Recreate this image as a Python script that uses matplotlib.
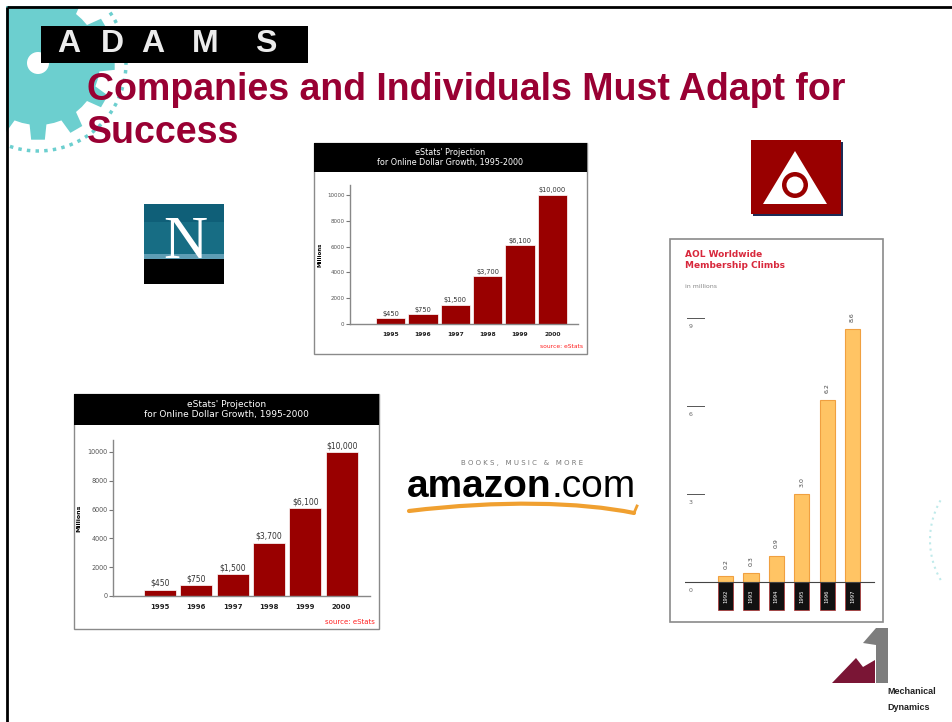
import numpy as np
import matplotlib.pyplot as plt
from matplotlib.patches import Rectangle, Polygon, Circle, PathPatch
from matplotlib.path import Path
from matplotlib import font_manager

# slide size in pixels
W, H = 953, 722

# eStats chart data
years = ["1995", "1996", "1997", "1998", "1999", "2000"]
online_sales = [450, 750, 1500, 3700, 6100, 10000]
sales_labels = ["$450", "$750", "$1,500", "$3,700", "$6,100", "$10,000"]
sales_ticks = [0, 2000, 4000, 6000, 8000, 10000]

# AOL chart data
aol_years = ["1992", "1993", "1994", "1995", "1996", "1997"]
aol_members = [0.2, 0.3, 0.9, 3.0, 6.2, 8.6]
aol_labels = ["0.2", "0.3", "0.9", "3.0", "6.2", "8.6"]
aol_ticks = [3, 6, 9]

TITLE_RED = "#990033"


def px(x0, y0, x1, y1):
    # pixel box (top-left origin) -> figure fraction rect
    return [x0 / W, 1 - y1 / H, (x1 - x0) / W, (y1 - y0) / H]


def has_font(name):
    try:
        font_manager.findfont(name, fallback_to_default=False)
        return True
    except Exception:
        return False


fig = plt.figure(figsize=(9.53, 7.22), dpi=100)
bg = fig.add_axes([0, 0, 1, 1])
bg.set_xlim(0, W)
bg.set_ylim(H, 0)
bg.axis("off")

# --- teal gear in the top-left corner ---
cx, cy = 38, 63
n_teeth = 12
step = 2 * np.pi / n_teeth
pts = []
for i in range(n_teeth):
    a = i * step
    for r, da in [(62, -0.5), (62, -0.26), (77, -0.17), (77, 0.17), (62, 0.26)]:
        pts.append((cx + r * np.cos(a + da * step), cy + r * np.sin(a + da * step)))
bg.add_patch(Polygon(pts, closed=True, facecolor="#6ccfcf", edgecolor="none", zorder=1))
bg.add_patch(Circle((cx, cy), 11, facecolor="white", edgecolor="none", zorder=1))
th = np.linspace(np.radians(-35), np.radians(150), 60)
bg.plot(cx + 88 * np.cos(th), cy + 88 * np.sin(th), color="#6ccfcf", lw=2.5,
        linestyle=(0, (1, 1.5)), zorder=1)
# faint gear fragment on the right edge
th2 = np.linspace(np.radians(150), np.radians(210), 30)
bg.plot(1010 + 80 * np.cos(th2), 540 + 80 * np.sin(th2), color="#bfeaea", lw=1.5,
        linestyle=(0, (1, 2)), zorder=1)

# slide border
bg.add_patch(Rectangle((0, 0), 6, H, facecolor="white", edgecolor="none", zorder=2))
bg.add_patch(Rectangle((0, 0), W, 6, facecolor="white", edgecolor="none", zorder=2))
bg.plot([7, 7], [7, H], color="black", lw=2, zorder=3, solid_capstyle="butt")
bg.plot([7, W], [7, 7], color="black", lw=2, zorder=3, solid_capstyle="butt")

# --- ADAMS logo ---
bg.add_patch(Rectangle((41, 26), 267, 37, facecolor="black", zorder=3))
for letter, x in zip("ADAMS", [69, 112, 153, 205, 266]):
    bg.text(x, 44, letter, color="#ececec", fontsize=23, fontweight="bold",
            ha="center", va="center", family="Liberation Sans", zorder=4)

# --- slide title ---
bg.text(87, 100, "Companies and Individuals Must Adapt for", color=TITLE_RED,
        fontsize=27, fontweight="bold", family="Liberation Sans", va="baseline", zorder=5)
bg.text(87, 143, "Success", color=TITLE_RED, fontsize=27, fontweight="bold",
        family="Liberation Sans", va="baseline", zorder=5)

# --- Netscape logo ---
bg.add_patch(Rectangle((144, 204), 80, 54, facecolor="#176d84", zorder=3))
bg.add_patch(Rectangle((144, 204), 80, 18, facecolor="#0f5f78", zorder=3))
bg.add_patch(Rectangle((144, 254), 80, 5, facecolor="#5f9db4", zorder=3))
bg.add_patch(Rectangle((144, 259), 80, 25, facecolor="black", zorder=3))
bg.text(185, 258, "N", color="white", fontsize=44, family="Liberation Serif",
        ha="center", va="baseline", zorder=4)

# --- AOL logo ---
bg.add_patch(Rectangle((753, 142), 90, 74, facecolor="#1d2b55", zorder=3))
bg.add_patch(Rectangle((751, 140), 90, 74, facecolor="#990000", zorder=4))
bg.add_patch(Polygon([(795, 151), (763, 204), (827, 204)], facecolor="white", zorder=5))
bg.add_patch(Circle((795, 185), 13, facecolor="#990000", zorder=6))
bg.add_patch(Circle((795, 185), 8.5, facecolor="white", zorder=7))

# --- amazon.com logo ---
bg.text(522, 463, "B O O K S ,   M U S I C   &   M O R E", color="#777777", fontsize=5,
        ha="center", va="center", zorder=4)
narrow = "Liberation Sans Narrow" if has_font("Liberation Sans Narrow") else "Liberation Sans"
amz_size = 35 if narrow == "Liberation Sans Narrow" else 28
t1 = bg.text(407, 497, "amazon", fontsize=amz_size, fontweight="bold", family=narrow,
             color="black", va="baseline", zorder=4)
fig.canvas.draw()
x_end = t1.get_window_extent().x1
bg.text(x_end, 497, ".com", fontsize=amz_size, family=narrow,
        color="black", va="baseline", zorder=4)
swoosh = Path([(409, 511), (500, 500), (580, 502), (634, 513)],
              [Path.MOVETO, Path.CURVE4, Path.CURVE4, Path.CURVE4])
bg.add_patch(PathPatch(swoosh, facecolor="none", edgecolor="#f0a030", lw=3,
                       capstyle="round", zorder=4))
bg.plot([634, 637], [513, 506], color="#f0a030", lw=2, zorder=4)

# --- Mechanical Dynamics logo ---
bg.add_patch(Polygon([(832, 683), (856, 658), (863, 667), (875, 660), (875, 683)],
                     facecolor="#7a1535", zorder=4))
bg.add_patch(Polygon([(863, 643), (876, 628), (888, 628), (888, 683), (876, 683), (876, 645)],
                     facecolor="#7d7d7d", zorder=4))
bg.text(887, 692, "Mechanical", fontsize=6.5, fontweight="bold", color="#222222",
        family=narrow, va="center", zorder=4)
bg.text(887, 707, "Dynamics", fontsize=6.5, fontweight="bold", color="#222222",
        family=narrow, va="center", zorder=4)


def estats_chart(frame, header_bottom, plot, bar_w, xlim, ylim, fs):
    x0, y0, x1, y1 = frame
    bg.add_patch(Rectangle((x0, y0), x1 - x0, y1 - y0, facecolor="white",
                           edgecolor="#8a8a8a", lw=1, zorder=3))
    bg.add_patch(Rectangle((x0, y0), x1 - x0, header_bottom - y0, facecolor="black", zorder=4))
    bg.text((x0 + x1) / 2, (y0 + header_bottom) / 2,
            "eStats' Projection\nfor Online Dollar Growth, 1995-2000",
            color="white", fontsize=fs + 1, ha="center", va="center", linespacing=1.15, zorder=5)
    bg.text(x1 - 4, y1 - 7, "source: eStats", color="#ff2020", fontsize=fs - 0.5,
            ha="right", va="center", zorder=5)

    ax = fig.add_axes(px(*plot), zorder=6)
    ax.patch.set_alpha(0)
    ax.bar(range(len(years)), online_sales, width=bar_w, color="#990000",
           edgecolor="white", lw=0.5)
    for i, (v, lab) in enumerate(zip(online_sales, sales_labels)):
        ax.text(i, v + 120, lab, ha="center", va="bottom", fontsize=fs, color="#333333")
    ax.set_xlim(*xlim)
    ax.set_ylim(*ylim)
    ax.set_yticks(sales_ticks)
    ax.set_yticklabels([str(t) for t in sales_ticks], fontsize=fs - 0.8, color="#555555")
    ax.set_xticks(range(len(years)))
    ax.set_xticklabels(years, fontsize=fs - 0.5, color="#222222", fontweight="bold")
    ax.tick_params(axis="x", length=0, pad=6)
    ax.tick_params(axis="y", length=3, width=0.8, color="#777777", pad=1)
    for side in ["top", "right"]:
        ax.spines[side].set_visible(False)
    for side in ["left", "bottom"]:
        ax.spines[side].set_color("#888888")
        ax.spines[side].set_linewidth(1)
    return ax


# top eStats chart
ax_top = estats_chart((314, 143, 587, 354), 172, (350, 185, 578, 324), 0.91,
                      (-1.25, 5.79), (0, 10775), 4.8)
ax_top.set_ylabel("Millions", fontsize=4, fontweight="bold", labelpad=3)

# bottom-left eStats chart
ax_bot = estats_chart((74, 394, 379, 629), 425, (113, 440, 370, 596), 0.88,
                      (-1.29, 5.78), (0, 10833), 5.5)
ax_bot.set_ylabel("Millions", fontsize=4.5, fontweight="bold", labelpad=4)

# --- AOL membership chart ---
bg.add_patch(Rectangle((670, 239), 213, 383, facecolor="white", edgecolor="#8a8a8a",
                       lw=1.2, zorder=3))
bg.text(685, 250, "AOL Worldwide\nMembership Climbs", color="#d8283c", fontsize=6.5,
        fontweight="bold", ha="left", va="top", linespacing=1.35, zorder=5)
bg.text(685, 287, "in millions", color="#888888", fontsize=4.5, ha="left", va="center", zorder=5)

ax_aol = fig.add_axes(px(685, 300, 878, 612), zorder=6)
ax_aol.patch.set_alpha(0)
ax_aol.axis("off")
ax_aol.set_xlim(-1.6, 6.0)
ax_aol.set_ylim(-1.02, 9.6)
xs = np.arange(len(aol_members))
ax_aol.bar(xs, aol_members, width=0.6, color="#ffc464", edgecolor="#f0a040", lw=0.8)
ax_aol.bar(xs, [-0.95] * len(xs), width=0.6, color="#111111", edgecolor="#b03030", lw=0.5)
for x, v, lab, yr in zip(xs, aol_members, aol_labels, aol_years):
    ax_aol.text(x, v + 0.25, lab, rotation=90, ha="center", va="bottom",
                fontsize=4.5, color="#444444")
    ax_aol.text(x, -0.48, yr, rotation=90, ha="center", va="center",
                fontsize=3.8, color="white")
ax_aol.axhline(0, xmin=0, xmax=0.98, color="#444444", lw=0.8)
for t in aol_ticks:
    ax_aol.plot([-1.52, -0.85], [t, t], color="#555555", lw=0.7)
    ax_aol.text(-1.45, t - 0.3, str(t), fontsize=4.5, color="#666666", ha="left", va="center")
ax_aol.text(-1.45, -0.3, "0", fontsize=4.5, color="#666666", ha="left", va="center")

fig.savefig("out.png", dpi=100)
